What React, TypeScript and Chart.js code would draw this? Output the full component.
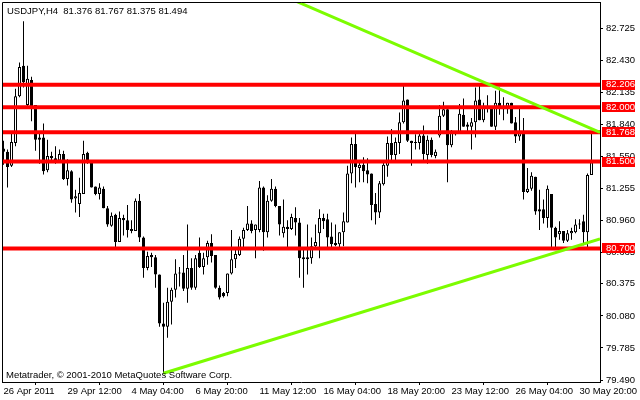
import React, { useEffect, useRef } from "react";
import { Chart, registerables } from "chart.js";

Chart.register(...registerables);

const SYMBOL = "USDJPY,H4";

const opens = [
  81.62, 81.59, 81.46, 81.67, 82.10, 82.38, 82.02, 82.25, 82.02, 81.72,
  81.72, 81.42, 81.55, 81.53, 81.51, 81.57, 81.34, 81.41, 81.16, 81.11,
  81.20, 81.58, 81.50, 81.27, 81.20, 81.25, 81.07, 80.91, 81.01, 80.76,
  80.98, 80.96, 80.86, 80.86, 81.14, 80.80, 80.52, 80.64, 80.62, 80.46,
  80.01, 79.98, 80.21, 80.32, 80.48, 80.48, 80.33, 80.52, 80.34, 80.66,
  80.53, 80.62, 80.75, 80.64, 80.34, 80.29, 80.29, 80.47, 80.60, 80.64,
  80.79, 80.87, 80.93, 80.87, 80.87, 81.26, 80.85, 81.14, 81.25, 81.09,
  80.84, 80.90, 80.88, 80.98, 80.94, 80.62, 80.60, 80.61, 80.72, 80.84,
  80.98, 80.97, 80.81, 80.75, 80.74, 80.85, 80.94, 81.39, 81.66, 81.44,
  81.47, 81.42, 81.39, 81.11, 81.03, 81.29, 81.46, 81.67, 81.56, 81.67,
  81.86, 82.07, 81.69, 81.68, 81.67, 81.74, 81.56, 81.70, 81.55, 81.74,
  81.92, 81.98, 81.65, 81.77, 81.77, 81.93, 81.84, 81.82, 81.86, 82.07,
  81.88, 82.00, 81.99, 81.82, 82.04, 82.00, 81.98, 82.04, 81.86, 81.73,
  81.76, 81.22, 81.25, 81.36, 81.06, 81.06, 80.98, 81.20, 80.89, 80.83,
  80.86, 80.77, 80.84, 80.85, 80.92, 80.95, 80.85, 81.376,
];
const highs = [
  81.69, 81.61, 81.77, 82.17, 82.41, 82.79, 82.38, 82.28, 82.02, 81.76,
  81.85, 81.70, 81.59, 81.64, 81.61, 81.60, 81.52, 81.42, 81.24, 81.35,
  81.69, 81.59, 81.50, 81.27, 81.30, 81.27, 81.09, 81.03, 81.02, 81.04,
  81.01, 81.10, 80.96, 81.16, 81.20, 80.81, 80.67, 80.66, 80.64, 80.46,
  80.20, 80.34, 80.34, 80.60, 80.53, 80.64, 80.92, 80.61, 80.64, 80.80,
  80.66, 80.77, 80.83, 80.64, 80.36, 80.30, 80.47, 80.87, 80.71, 80.81,
  80.89, 81.09, 80.96, 80.92, 81.32, 81.27, 81.19, 81.34, 81.27, 81.09,
  81.15, 80.96, 81.02, 81.08, 80.98, 80.71, 80.92, 80.80, 80.92, 81.06,
  81.02, 81.02, 80.94, 80.92, 80.85, 81.03, 81.46, 81.72, 81.77, 81.49,
  81.54, 81.53, 81.39, 81.21, 81.32, 81.49, 81.73, 81.80, 81.72, 81.95,
  82.22, 82.07, 81.69, 81.75, 81.77, 81.83, 81.74, 81.72, 81.61, 82.02,
  82.05, 81.99, 81.79, 81.78, 82.03, 82.08, 81.86, 81.90, 82.18, 82.22,
  82.04, 82.11, 82.00, 82.15, 82.18, 82.09, 82.04, 82.04, 81.91, 82.01,
  81.90, 81.44, 81.40, 81.36, 81.24, 81.15, 81.28, 81.20, 80.90, 80.95,
  80.86, 80.87, 80.89, 80.97, 80.97, 81.01, 81.39, 81.767,
];
const lows = [
  81.47, 81.26, 81.45, 81.64, 82.09, 82.18, 82.01, 81.87, 81.60, 81.48,
  81.38, 81.40, 81.49, 81.48, 81.50, 81.33, 81.28, 81.12, 81.03, 80.99,
  81.20, 81.48, 81.26, 81.19, 81.15, 81.07, 80.90, 80.90, 80.69, 80.76,
  80.82, 80.80, 80.84, 80.86, 80.76, 80.43, 80.50, 80.53, 80.34, 79.98,
  79.55, 79.88, 80.00, 80.25, 80.35, 80.31, 80.20, 80.32, 80.32, 80.52,
  80.46, 80.55, 80.57, 80.33, 80.23, 80.25, 80.26, 80.46, 80.52, 80.63,
  80.71, 80.86, 80.84, 80.61, 80.85, 80.68, 80.80, 81.13, 81.08, 80.82,
  80.80, 80.70, 80.87, 80.82, 80.43, 80.34, 80.46, 80.56, 80.70, 80.61,
  80.88, 80.70, 80.70, 80.72, 80.69, 80.72, 80.94, 81.30, 81.26, 81.31,
  81.31, 81.30, 80.96, 80.92, 80.98, 81.28, 81.36, 81.50, 81.49, 81.57,
  81.85, 81.68, 81.46, 81.61, 81.61, 81.50, 81.48, 81.54, 81.53, 81.72,
  81.91, 81.31, 81.63, 81.74, 81.76, 81.82, 81.76, 81.61, 81.72, 81.88,
  81.86, 81.95, 81.82, 81.79, 81.93, 81.88, 81.94, 81.85, 81.67, 81.69,
  81.15, 81.21, 81.23, 81.01, 80.87, 80.93, 80.89, 80.69, 80.70, 80.78,
  80.75, 80.76, 80.78, 80.84, 80.88, 80.73, 80.70, 81.375,
];
const closes = [
  81.59, 81.45, 81.68, 82.10, 82.37, 82.23, 82.26, 82.01, 81.70, 81.70,
  81.41, 81.55, 81.53, 81.51, 81.57, 81.34, 81.42, 81.15, 81.18, 81.21,
  81.57, 81.49, 81.26, 81.20, 81.26, 81.07, 80.92, 81.00, 80.76, 80.98,
  80.96, 80.87, 80.88, 81.14, 80.80, 80.52, 80.63, 80.62, 80.46, 80.01,
  79.98, 80.21, 80.32, 80.47, 80.47, 80.33, 80.52, 80.34, 80.61, 80.53,
  80.61, 80.75, 80.63, 80.34, 80.25, 80.26, 80.47, 80.60, 80.65, 80.79,
  80.87, 80.93, 80.86, 80.92, 81.26, 80.85, 81.14, 81.25, 81.09, 80.92,
  80.90, 80.88, 80.99, 80.94, 80.61, 80.60, 80.62, 80.72, 80.76, 80.98,
  80.95, 80.80, 80.74, 80.73, 80.85, 80.95, 81.39, 81.66, 81.45, 81.47,
  81.41, 81.38, 81.10, 81.03, 81.30, 81.47, 81.67, 81.56, 81.68, 81.86,
  82.06, 81.69, 81.67, 81.67, 81.74, 81.57, 81.70, 81.56, 81.59, 81.92,
  81.98, 81.65, 81.78, 81.75, 81.94, 81.82, 81.82, 81.86, 82.06, 81.88,
  82.00, 81.99, 81.82, 82.04, 82.00, 81.98, 82.04, 81.85, 81.73, 81.76,
  81.22, 81.25, 81.37, 81.04, 81.04, 80.98, 81.25, 80.89, 80.80, 80.86,
  80.77, 80.84, 80.86, 80.92, 80.93, 80.85, 81.375, 81.494,
];

const xTickBars = [0, 16, 32, 48, 64, 80, 96, 112, 128, 144];
const xTickLabels = [
  "26 Apr 2011", "29 Apr 12:00", "4 May 04:00", "6 May 20:00", "11 May 12:00",
  "16 May 04:00", "18 May 20:00", "23 May 12:00", "26 May 04:00", "30 May 20:00",
];
const yTickValues = [
  79.49, 79.785, 80.08, 80.375, 80.665, 80.96, 81.255, 81.55, 81.84, 82.135, 82.43, 82.725,
];
const levels = [82.206, 82.0, 81.768, 81.5, 80.7];
const upperTrend = [
  { x: 60, y: 83.183 },
  { x: 149.125, y: 81.768 },
];
const lowerTrend = [
  { x: 40, y: 79.553 },
  { x: 149.125, y: 80.787 },
];

const X_MIN = -0.375;
const X_MAX = 149.125;
const Y_MIN = 79.472;
const Y_MAX = 82.967;

const FONT_FAMILY = "'Liberation Sans', Arial, sans-serif";
const FONT_SIZE = 9.5;
const RED = "#FF0000";
const GREEN = "rgb(124,252,0)";

export default function App() {
  const ref = useRef<HTMLCanvasElement | null>(null);

  useEffect(() => {
    if (!ref.current) return;
    const n = opens.length;
    const wickData = [];
    const bodyData = [];
    const bodyColors = [];
    for (let i = 0; i < n; i++) {
      wickData.push({ x: i, y: [lows[i], highs[i]] });
      bodyData.push({ x: i, y: [Math.min(opens[i], closes[i]), Math.max(opens[i], closes[i])] });
      bodyColors.push(closes[i] >= opens[i] ? "#ffffff" : "#000000");
    }
    const last = n - 1;
    const header = `${SYMBOL}  ${opens[last].toFixed(3)} ${highs[last].toFixed(3)} ${lows[last].toFixed(3)} ${closes[last].toFixed(3)}`;
    const footer = "Metatrader, \u00A9 2001-2010 MetaQuotes Software Corp.";
    const font = `${FONT_SIZE}px ${FONT_FAMILY}`;

    const overlay = {
      id: "overlay",
      afterDraw(chart: any) {
        const { ctx, chartArea, scales } = chart;
        ctx.save();
        ctx.strokeStyle = "#000";
        ctx.lineWidth = 1;
        ctx.beginPath();
        ctx.moveTo(chartArea.left + 0.5, chartArea.bottom);
        ctx.lineTo(chartArea.left + 0.5, chartArea.top + 0.5);
        ctx.lineTo(chartArea.right, chartArea.top + 0.5);
        ctx.stroke();
        ctx.font = font;
        ctx.textBaseline = "middle";
        ctx.textAlign = "left";
        levels.forEach((v) => {
          const y = scales.y.getPixelForValue(v);
          ctx.fillStyle = RED;
          ctx.fillRect(chartArea.right + 2, Math.round(y) - 5, 33, 10);
          ctx.fillStyle = "#ffffff";
          ctx.fillText(v.toFixed(3), chartArea.right + 6, y);
        });
        ctx.fillStyle = "#000";
        ctx.fillText(header, 7, 11);
        ctx.fillText(footer, 6, 375);
        ctx.restore();
      },
    };

    const levelDatasets = levels.map((v) => ({
      type: "line",
      data: [
        { x: X_MIN, y: v },
        { x: X_MAX, y: v },
      ],
      borderColor: RED,
      borderWidth: 4,
      pointRadius: 0,
      order: 1,
    }));

    const chart = new Chart(ref.current, {
      type: "bar",
      data: {
        datasets: [
          {
            type: "line",
            data: upperTrend,
            borderColor: GREEN,
            borderWidth: 3,
            pointRadius: 0,
            order: 0,
          },
          {
            type: "line",
            data: lowerTrend,
            borderColor: GREEN,
            borderWidth: 3,
            pointRadius: 0,
            order: 0,
          },
          ...levelDatasets,
          {
            type: "bar",
            data: bodyData,
            backgroundColor: bodyColors,
            borderColor: "#000000",
            borderWidth: 1,
            borderSkipped: false,
            barThickness: 3,
            grouped: false,
            minBarLength: 1,
            inflateAmount: 0,
            order: 2,
          },
          {
            type: "bar",
            data: wickData,
            backgroundColor: "#000000",
            borderWidth: 0,
            barThickness: 1,
            grouped: false,
            inflateAmount: 0,
            order: 3,
          },
        ] as any,
      },
      options: {
        responsive: false,
        animation: false,
        devicePixelRatio: 1,
        layout: { padding: { left: 2, top: 2, right: 0, bottom: 0 } },
        plugins: { legend: { display: false }, tooltip: { enabled: false } },
        scales: {
          x: {
            type: "linear",
            min: X_MIN,
            max: X_MAX,
            offset: false,
            grid: { display: true, drawOnChartArea: false, drawTicks: true, tickLength: 3, color: "#000" },
            border: { display: true, color: "#000", width: 1 },
            ticks: {
              autoSkip: false,
              maxRotation: 0,
              minRotation: 0,
              align: "start",
              padding: 1,
              color: "#000",
              font: { family: FONT_FAMILY, size: FONT_SIZE },
              callback: (v: any) => {
                const k = xTickBars.indexOf(v);
                return k >= 0 ? xTickLabels[k] : "";
              },
            },
            afterBuildTicks: (scale: any) => {
              scale.ticks = xTickBars.map((v) => ({ value: v }));
            },
            afterFit: (scale: any) => {
              scale.height = 18;
              scale.paddingLeft = 0;
              scale.paddingRight = 0;
            },
          },
          y: {
            type: "linear",
            position: "right",
            min: Y_MIN,
            max: Y_MAX,
            grid: { display: true, drawOnChartArea: false, drawTicks: true, tickLength: 3, color: "#000" },
            border: { display: true, color: "#000", width: 1 },
            ticks: {
              padding: 3,
              color: "#000",
              font: { family: FONT_FAMILY, size: FONT_SIZE },
              callback: (v: any) => Number(v).toFixed(3),
            },
            afterBuildTicks: (scale: any) => {
              scale.ticks = yTickValues.map((v) => ({ value: v }));
            },
            afterFit: (scale: any) => {
              scale.width = 40;
              scale.paddingTop = 0;
              scale.paddingBottom = 0;
            },
          },
        },
      } as any,
      plugins: [overlay],
    });
    return () => chart.destroy();
  }, []);

  return (
    <div style={{ position: "fixed", left: 0, top: 0, width: 640, height: 400, background: "#fff" }}>
      <canvas ref={ref} width={640} height={400} style={{ width: 640, height: 400, display: "block" }} />
    </div>
  );
}
